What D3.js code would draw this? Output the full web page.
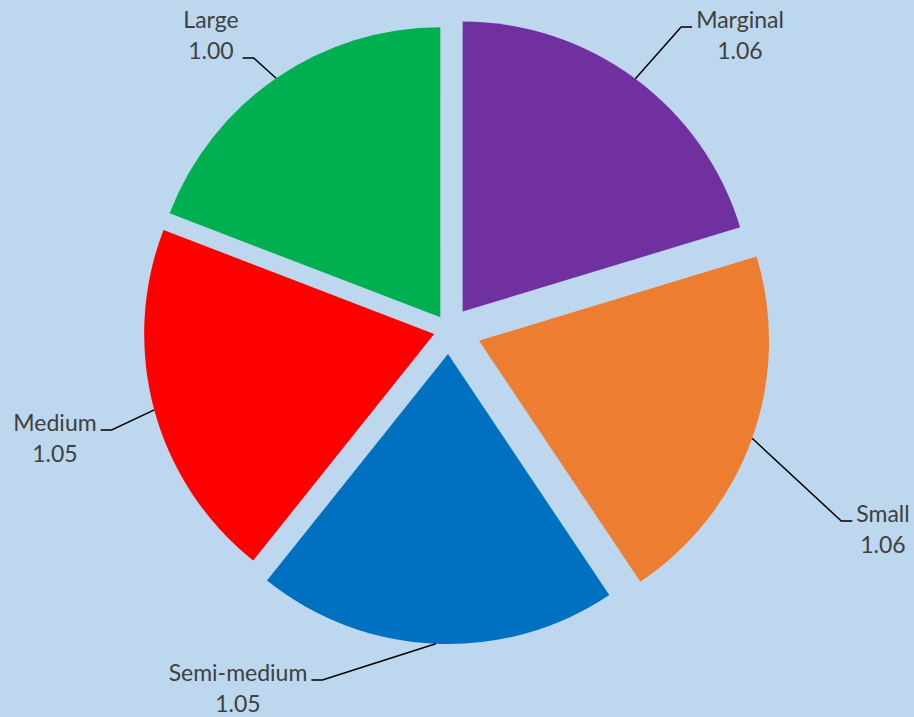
<!DOCTYPE html>
<html>
<head>
<meta charset="utf-8">
<script src="https://cdn.jsdelivr.net/npm/d3@7"></script>
<style>
  html, body { margin: 0; padding: 0; background: #BDD7EE; }
  svg { display: block; }
  .label { font-family: Lato, "Open Sans", sans-serif; font-size: 23px; fill: #404040; }
</style>
</head>
<body>
<div id="chart"></div>
<script>
// chart data
const categories = ["Marginal", "Small", "Semi-medium", "Medium", "Large"];
const values = [1.06, 1.06, 1.05, 1.05, 1.00];
const colors = ["#7030A0", "#ED7D31", "#0070C0", "#FF0000", "#00B050"];

// how far each slice is pulled out (fraction of radius), like excel point explosion
const explode = [0.079, 0.11, 0.083, 0.053, 0.053];

// where the labels sit: text centre x, first baseline y, which side the leader joins, which row
const labelLayout = [
  { x: 740, y: 28, side: "left", row: 0 },
  { x: 883, y: 522, side: "left", row: 0 },
  { x: 238, y: 681, side: "right", row: 0 },
  { x: 55, y: 431, side: "right", row: 0 },
  { x: 211, y: 28, side: "right", row: 1 }
];

const width = 914, height = 717;
const cx = 449, cy = 330, radius = 290;
const lineGap = 31;

let svg = d3.select("#chart").append("svg")
  .attr("width", width)
  .attr("height", height);

svg.append("rect").attr("width", width).attr("height", height).attr("fill", "#BDD7EE");

let pie = d3.pie().sort(null).value(d => d.value).startAngle(0);
let arc = d3.arc().innerRadius(0).outerRadius(radius);

let data = categories.map((c, i) => ({ name: c, value: values[i], color: colors[i], explode: explode[i], layout: labelLayout[i] }));
let slices = pie(data);

// offset of a slice along its middle angle
function shift(d) {
  let mid = (d.startAngle + d.endAngle) / 2;
  let dist = d.data.explode * radius;
  return [Math.sin(mid) * dist, -Math.cos(mid) * dist];
}

let g = svg.append("g").attr("transform", `translate(${cx},${cy})`);

g.selectAll("path.slice")
  .data(slices)
  .join("path")
  .attr("class", "slice")
  .attr("d", arc)
  .attr("fill", d => d.data.color)
  .attr("transform", d => {
    let s = shift(d);
    return `translate(${s[0]},${s[1]})`;
  });

// labels
let labels = svg.selectAll("text.label")
  .data(slices)
  .join("text")
  .attr("class", "label")
  .attr("text-anchor", "middle");

labels.append("tspan")
  .attr("x", d => d.data.layout.x)
  .attr("y", d => d.data.layout.y)
  .text(d => d.data.name);

labels.append("tspan")
  .attr("x", d => d.data.layout.x)
  .attr("y", d => d.data.layout.y + lineGap)
  .text(d => d3.format(".2f")(d.data.value));

// leader lines: from the middle of the outer arc to the side of the label
labels.each(function (d) {
  let box = this.getBBox();
  let mid = (d.startAngle + d.endAngle) / 2;
  let s = shift(d);
  let x0 = cx + s[0] + Math.sin(mid) * radius;
  let y0 = cy + s[1] - Math.cos(mid) * radius;
  let lay = d.data.layout;
  let yl = lay.y + lay.row * lineGap - 1;
  let xEnd = lay.side === "left" ? box.x - 4 : box.x + box.width + 4;
  let xElbow = lay.side === "left" ? xEnd - 11 : xEnd + 11;

  svg.append("polyline")
    .attr("points", [[x0, y0], [xElbow, yl], [xEnd, yl]].map(p => p.join(",")).join(" "))
    .attr("fill", "none")
    .attr("stroke", "#000")
    .attr("stroke-width", 1.5);
});
</script>
</body>
</html>
